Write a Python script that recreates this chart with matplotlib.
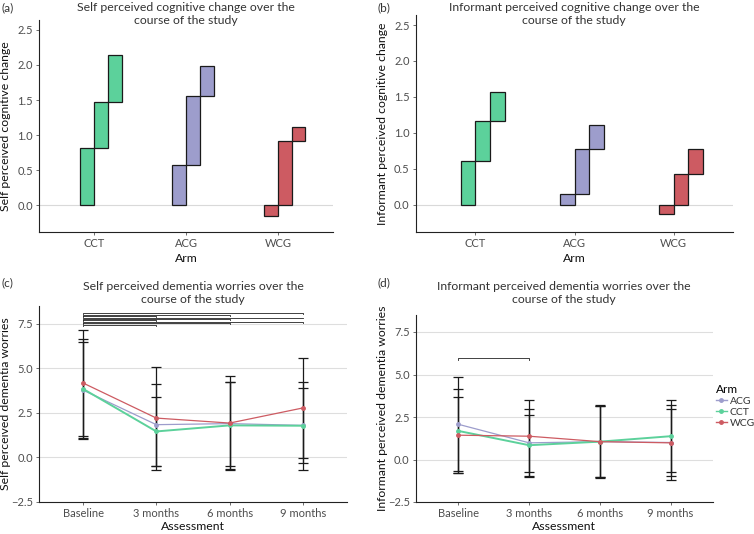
import numpy as np
import matplotlib
matplotlib.use("Agg")
from matplotlib import pyplot as plt
from matplotlib.lines import Line2D

plt.rcParams['font.family'] = ['Lato', 'DejaVu Sans']

# ---- data ----
arms = ["CCT", "ACG", "WCG"]
arm_fill = ["#5CD19B", "#9D9DCC", "#CD5B62"]

# waterfall steps (bottom / top of each of the three rects per arm)
self_change_bottom = [[0, 0.81, 1.47], [0, 0.57, 1.56], [0, 0, 0.92]]
self_change_top = [[0.81, 1.47, 2.14], [0.57, 1.56, 1.98], [-0.15, 0.92, 1.12]]
inf_change_bottom = [[0, 0.61, 1.16], [0, 0.15, 0.78], [0, 0, 0.43]]
inf_change_top = [[0.61, 1.16, 1.57], [0.15, 0.78, 1.11], [-0.13, 0.43, 0.77]]

timepoints = ["Baseline", "3 months", "6 months", "9 months"]
line_arms = ["ACG", "CCT", "WCG"]
line_colours = ["#9D9DCC", "#5CD19B", "#CD5B62"]

self_mean_acg = [3.78, 1.84, 1.90, 1.80]
self_sd_acg = [2.70, 2.31, 2.36, 2.12]
self_mean_cct = [3.85, 1.46, 1.80, 1.78]
self_sd_cct = [2.82, 1.92, 2.42, 2.48]
self_mean_wcg = [4.18, 2.21, 1.93, 2.78]
self_sd_wcg = [2.97, 2.89, 2.62, 2.81]

inf_mean_acg = [2.07, 0.98, 1.05, 1.00]
inf_sd_acg = [2.77, 2.00, 2.10, 1.95]
inf_mean_cct = [1.68, 0.84, 1.05, 1.37]
inf_sd_cct = [2.48, 1.80, 2.08, 2.11]
inf_mean_wcg = [1.43, 1.37, 1.05, 0.98]
inf_sd_wcg = [2.24, 2.11, 2.15, 2.20]

# significance brackets (start, end, height)
self_brk_start = [1, 1, 1, 1, 1, 1, 1, 1, 1]
self_brk_end = [2, 3, 4, 2, 3, 4, 2, 3, 4]
self_brk_y = [7.45, 7.53, 7.61, 7.69, 7.77, 7.85, 7.93, 8.01, 8.09]
inf_brk_start = [1]
inf_brk_end = [2]
inf_brk_y = [6.0]

W, H = 754, 534
fig = plt.figure(figsize=(W / 100, H / 100), dpi=100)

TICK = "#4D4D4D"
TXT = "#333333"


def px_axes(l, t, r, b):
    return fig.add_axes([l / W, 1 - b / H, (r - l) / W, (b - t) / H])


def style(ax):
    for s in ["top", "right"]:
        ax.spines[s].set_visible(False)
    for s in ["left", "bottom"]:
        ax.spines[s].set_color("#222222")
        ax.spines[s].set_linewidth(0.8)
    ax.tick_params(labelsize=8, labelcolor=TICK, color="#555555",
                   length=2.5, width=0.6, pad=2)


def waterfall(ax, bottoms, tops):
    w = 0.15
    for i in range(len(arms)):
        for j in range(3):
            left = (i + 1) + (j - 1) * w
            ax.bar(left, tops[i][j] - bottoms[i][j], bottom=bottoms[i][j],
                   width=w, align="edge", color=arm_fill[i],
                   edgecolor="#1a1a1a", linewidth=0.9, zorder=3)
    ax.axhline(0, color="#d9d9d9", lw=0.8, zorder=1)
    ax.set_xlim(0.4, 3.6)
    ax.set_ylim(-0.38, 2.64)
    ax.set_xticks([1, 2, 3])
    ax.set_xticklabels(arms)
    ax.set_yticks([0, 0.5, 1.0, 1.5, 2.0, 2.5])
    ax.set_yticklabels(["0.0", "0.5", "1.0", "1.5", "2.0", "2.5"])
    style(ax)


def worries(ax, means, sds, bstart, bend, by, tick):
    x = np.arange(1, 5)
    for yv in [0, 2.5, 5, 7.5]:
        ax.axhline(yv, color="#dedede", lw=0.8, zorder=1)
    for k in range(3):
        ax.errorbar(x, means[k], yerr=sds[k], fmt="none", ecolor="#1a1a1a",
                    elinewidth=0.9, capsize=3.5, capthick=0.9, zorder=2)
    for k in range(3):
        lw = 1.4 if line_arms[k] == "CCT" else 0.9
        ax.plot(x, means[k], color=line_colours[k], lw=lw, marker="o",
                markersize=2.5, zorder=3)
    for s, e, yv in zip(bstart, bend, by):
        ax.plot([s, s, e, e], [yv - tick, yv, yv, yv - tick],
                color="#222222", lw=0.6, zorder=4)
    ax.set_xlim(0.4, 4.6)
    ax.set_ylim(-2.5, 8.5)
    ax.set_xticks(x)
    ax.set_xticklabels(timepoints)
    ax.set_yticks([-2.5, 0, 2.5, 5.0, 7.5])
    ax.set_yticklabels(["\u22122.5", "0.0", "2.5", "5.0", "7.5"])
    style(ax)


# (a)
ax_a = px_axes(39, 20, 333, 232)
waterfall(ax_a, self_change_bottom, self_change_top)
# (b)
ax_b = px_axes(416, 15, 733, 232)
waterfall(ax_b, inf_change_bottom, inf_change_top)
# (c)
ax_c = px_axes(39, 306, 347, 502)
worries(ax_c, [self_mean_acg, self_mean_cct, self_mean_wcg],
        [self_sd_acg, self_sd_cct, self_sd_wcg],
        self_brk_start, self_brk_end, self_brk_y, 0.05)
# (d)
ax_d = px_axes(416, 315, 713, 502)
worries(ax_d, [inf_mean_acg, inf_mean_cct, inf_mean_wcg],
        [inf_sd_acg, inf_sd_cct, inf_sd_wcg],
        inf_brk_start, inf_brk_end, inf_brk_y, 0.15)


def ftext(x, y, s, **kw):
    fig.text(x / W, 1 - y / H, s, **kw)


# panel letters
ftext(1, 8, "(a)", fontsize=8.5, color=TXT, va="center")
ftext(377, 8, "(b)", fontsize=8.5, color=TXT, va="center")
ftext(1, 283, "(c)", fontsize=8.5, color=TXT, va="center")
ftext(377, 283, "(d)", fontsize=8.5, color=TXT, va="center")

# titles
tkw = dict(fontsize=8.8, color=TXT, ha="center", va="center", linespacing=1.25)
ftext(186, 14, "Self perceived cognitive change over the\ncourse of the study", **tkw)
ftext(574, 14, "Informant perceived cognitive change over the\ncourse of the study", **tkw)
ftext(193, 293, "Self perceived dementia worries over the\ncourse of the study", **tkw)
ftext(564, 293, "Informant perceived dementia worries over the\ncourse of the study", **tkw)

# axis labels
lkw = dict(fontsize=8.8, color="#111111", ha="center", va="center")
ftext(186, 258, "Arm", **lkw)
ftext(574, 258, "Arm", **lkw)
ftext(193, 527, "Assessment", **lkw)
ftext(564, 527, "Assessment", **lkw)
ftext(6, 126, "Self perceived cognitive change", rotation=90, **lkw)
ftext(383, 124, "Informant perceived cognitive change", rotation=90, **lkw)
ftext(6, 404, "Self perceived dementia worries", rotation=90, **lkw)
ftext(383, 408, "Informant perceived dementia worries", rotation=90, **lkw)

# legend
handles = [Line2D([], [], color=c, lw=1, marker="o", markersize=2.5)
           for c in line_colours]
leg = fig.legend(handles, line_arms, title="Arm", loc="upper left",
                 bbox_to_anchor=(714 / W, 1 - 382 / H), frameon=False,
                 fontsize=7.5, title_fontsize=8.5, handlelength=1.0,
                 handletextpad=0.3, labelspacing=0.15, borderpad=0.2,
                 borderaxespad=0)
leg._legend_box.align = "left"
for t in leg.get_texts():
    t.set_color(TXT)

fig.savefig("out.png", dpi=100)
